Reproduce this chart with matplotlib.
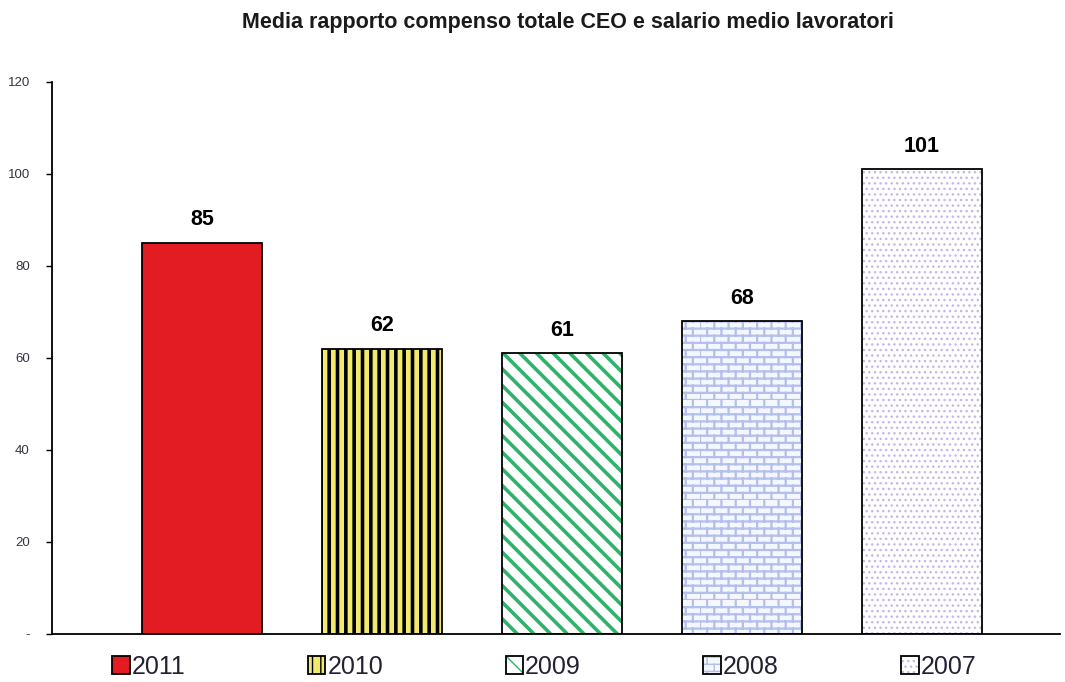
"""
Media rapporto compenso totale CEO / salario medio lavoratori, 2011-2007.
"""
import matplotlib

matplotlib.use("Agg")

import matplotlib.pyplot as plt
import numpy as np
from matplotlib import hatch as mhatch
from matplotlib.colors import to_rgba
from matplotlib.path import Path

YEARS = ["2011", "2010", "2009", "2008", "2007"]
VALUES = [85, 62, 61, 68, 101]
LABELS = ["85", "62", "61", "68", "101"]

FACE_COLORS = ["#e31b23", "#f2ea6e", "white", "#f5f7fe", "white"]
HATCHES = [None, "||", "\\\\", "b", "..."]
HATCH_COLORS = ["black", "black", "#2fb36b", "#b3bfec", "#c9b6e6"]
HATCH_WIDTHS = [1.0, 2.6, 2.6, 1.6, 1.0]

Y_TICKS = [0, 20, 40, 60, 80, 100, 120]
Y_TICK_LABELS = ["-", "20", "40", "60", "80", "100", "120"]


class BrickHatch(mhatch.HatchPatternBase):
    """Brick wall pattern, used for hatch letter 'b'."""

    rows = 14
    cols = 7

    def __init__(self, hatch, density):
        self.on = "b" in hatch
        self.num_vertices = (2 * self.rows + 2 * self.rows * self.cols) if self.on else 0

    def set_vertices_and_codes(self, vertices, codes):
        if not self.on:
            return
        r, c = self.rows, self.cols
        ys = np.arange(r) / r
        # horizontal joints
        vertices[0:2 * r:2, 0] = 0.0
        vertices[1:2 * r:2, 0] = 1.0
        vertices[0:2 * r:2, 1] = ys
        vertices[1:2 * r:2, 1] = ys
        # vertical joints, shifted every other row
        k, j = np.meshgrid(np.arange(r), np.arange(c), indexing="ij")
        xs = ((j + 0.5 * (k % 2)) / c).ravel()
        y0 = (k / r).ravel()
        y1 = ((k + 1) / r).ravel()
        vertices[2 * r::2, 0] = xs
        vertices[2 * r + 1::2, 0] = xs
        vertices[2 * r::2, 1] = y0
        vertices[2 * r + 1::2, 1] = y1
        codes[0::2] = Path.MOVETO
        codes[1::2] = Path.LINETO


mhatch._hatch_types.append(BrickHatch)

plt.rcParams["font.family"] = ["Liberation Sans", "DejaVu Sans"]

fig = plt.figure(figsize=(10.65, 6.82), dpi=100)
ax = fig.add_axes([0.0488, 0.0704, 0.9462, 0.8094])

handles = []
for i, (year, val) in enumerate(zip(YEARS, VALUES)):
    hatch = HATCHES[i]
    with plt.rc_context({"hatch.linewidth": HATCH_WIDTHS[i]}):
        bar = ax.bar(i, val, width=0.667, color=FACE_COLORS[i],
                     edgecolor="black", linewidth=1.3,
                     hatch=None if hatch == "b" else hatch, label=year)
    for p in bar.patches:
        if hatch == "b":
            p._hatch = "b"  # custom pattern, skip validation
        p._hatch_color = to_rgba(HATCH_COLORS[i])
        if hasattr(p, "set_hatch_linewidth"):
            p.set_hatch_linewidth(HATCH_WIDTHS[i])
    handles.append(bar)
    ax.annotate(LABELS[i], (i, val), xytext=(0, 9), textcoords="offset points",
                ha="center", va="bottom", fontsize=15.5, fontweight="bold")

ax.set_xlim(-0.833, 4.767)
ax.set_ylim(0, 120)
ax.set_yticks(Y_TICKS)
ax.set_yticklabels(Y_TICK_LABELS, fontsize=9.5, color="#333344")
ax.tick_params(axis="y", length=4, width=1, pad=12)
ax.set_xticks([])
for side in ("top", "right"):
    ax.spines[side].set_visible(False)
ax.spines["left"].set_linewidth(1.3)
ax.spines["bottom"].set_linewidth(1.3)

fig.text(0.533, 0.967, "Media rapporto compenso totale CEO e salario medio lavoratori",
         ha="center", va="center", fontsize=15.5, fontweight="bold", color="#1a1a1a")

leg = fig.legend(handles=handles, labels=YEARS, loc="center",
                 bbox_to_anchor=(0.511, 0.022), ncol=5, frameon=False,
                 fontsize=18, handlelength=0.7, handleheight=0.7,
                 handletextpad=0.08, columnspacing=4.9)
for t in leg.get_texts():
    t.set_color("#222233")

fig.savefig("out.png", dpi=100)
